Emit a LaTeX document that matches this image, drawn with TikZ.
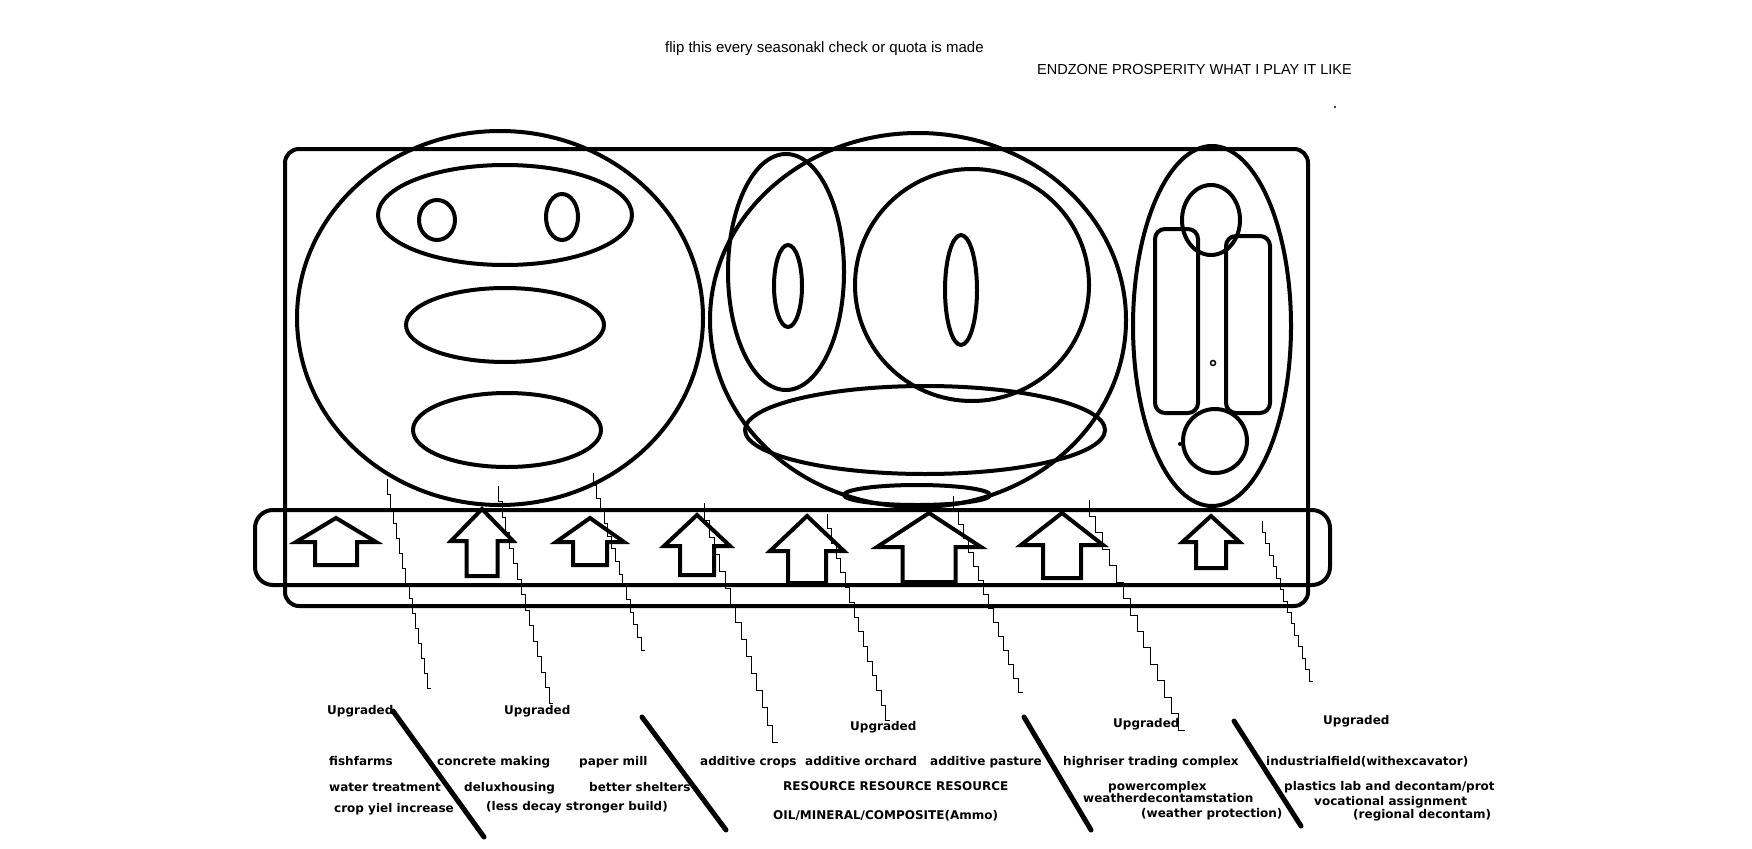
\documentclass[tikz,border=0pt]{standalone}
\usepackage{fontspec}
\setmainfont{DejaVu Sans}
\newfontfamily\headfont{Liberation Sans}
\usetikzlibrary{positioning}
\tikzset{
  board/.style={draw, line width=4pt, rounded corners=14pt},
  ring/.style={draw, line width=4pt},
  uparrow/.style={draw, line width=4pt, line join=miter},
  slash/.style={draw, line width=5pt, line cap=round},
  crack/.style={draw, line width=0.8pt},
  itemtext/.style={font=\bfseries\fontsize{12}{14}\selectfont, anchor=west, inner sep=0pt, text height=9pt, text depth=3pt},
  heading/.style={font=\headfont\fontsize{15}{18}\selectfont, anchor=west, inner sep=0pt}
}

\begin{document}
\begin{tikzpicture}[x=1pt, y=-1pt]
        \useasboundingbox (0,0) rectangle (1752,848);
        % heading
        \node[heading] (flipnote) at (665,49) {flip this every seasonakl check or quota is made};
        \node[heading, font=\headfont\fontsize{14.5}{17}\selectfont] (title) at (1037,70) {ENDZONE PROSPERITY WHAT I PLAY IT LIKE};
        \fill (1335,107) circle (1.2);
        % board and bar
        \draw[board] (285,149) rectangle (1308,606);
        \draw[board, rounded corners=18pt] (255,510) rectangle (1330,585);
        % left zone
        \draw[ring] (500,318) ellipse [x radius=203, y radius=187];
        \draw[ring] (505,215) ellipse [x radius=127, y radius=50];
        \draw[ring] (437,220) ellipse [x radius=18, y radius=20];
        \draw[ring] (562,217) ellipse [x radius=16, y radius=23];
        \draw[ring] (505,325) ellipse [x radius=99, y radius=37];
        \draw[ring] (507,430) ellipse [x radius=94, y radius=37];
        % middle zone
        \draw[ring] (918,320) ellipse [x radius=208, y radius=187];
        \draw[ring] (786,272) ellipse [x radius=58, y radius=118];
        \draw[ring] (788,286) ellipse [x radius=14, y radius=41];
        \draw[ring] (972,285) ellipse [x radius=117, y radius=116];
        \draw[ring] (961,290) ellipse [x radius=16, y radius=55];
        \draw[ring] (925,430) ellipse [x radius=180, y radius=44];
        \draw[ring] (917,495) ellipse [x radius=73, y radius=10];
        % right zone
        \draw[ring] (1212,326) ellipse [x radius=79, y radius=180];
        \draw[ring, rounded corners=10pt] (1155,229) rectangle (1198,413);
        \draw[ring, rounded corners=10pt] (1226,236) rectangle (1270,413);
        \draw[ring] (1211,220) ellipse [x radius=29, y radius=35];
        \draw[ring] (1215,441) ellipse [x radius=32, y radius=32];
        \draw[line width=1.5pt] (1213,363) circle (2.5);
        \fill (1180,444) circle (2);
        % arrows in the bar
        \foreach \tx/\ty/\hw/\hy/\sw/\by in {336/518/40/542/21/565, 482/509/31/541/15.5/576,
            590/518/34/542/17/565, 697/515/33/546/17/575, 807/516/37/551/19/583,
            929/513/52/547/26.5/582, 1062/513/41/545/19/578, 1211/516/28.5/542/15/568}
          \draw[uparrow] (\tx,\ty) -- (\tx+\hw,\hy) -- (\tx+\sw,\hy) -- (\tx+\sw,\by)
            -- (\tx-\sw,\by) -- (\tx-\sw,\hy) -- (\tx-\hw,\hy) -- cycle;
        % cracks
        \foreach \xa/\ya/\xb/\yb in {387/479/431/688, 498/486/553/703, 593/473/645/650,
            704/503/778/742, 827/514/890/720, 953/496/1023/692, 1089/500/1185/730, 1262/521/1313/681}
          \draw[crack] (\xa,\ya) foreach \k in {1,...,14} { -- ++(0,{(\yb-\ya)/14}) -- ++({(\xb-\xa)/14},0) };
        % dividers
        \draw[slash] (393,711) -- (484,837);
        \draw[slash] (642,717) -- (726,830);
        \draw[slash] (1024,717) -- (1091,830);
        \draw[slash] (1234,721) -- (1301,826);
        % upgrade notes
        \node[itemtext] (upgA) at (327,711) {Upgraded};
        \node[itemtext] (upgB) at (504,711) {Upgraded};
        \node[itemtext] (upgC) at (850,727) {Upgraded};
        \node[itemtext] (upgD) at (1113,724) {Upgraded};
        \node[itemtext] (upgE) at (1323,721) {Upgraded};
        \node[itemtext] (fishfarms) at (329,762) {fishfarms};
        \node[itemtext] (concrete) at (437,762) {concrete making};
        \node[itemtext] (papermill) at (579,762) {paper mill};
        \node[itemtext] (crops) at (700,762) {additive crops};
        \node[itemtext] (orchard) at (805,762) {additive orchard};
        \node[itemtext] (pasture) at (930,762) {additive pasture};
        \node[itemtext] (highriser) at (1063,762) {highriser trading complex};
        \node[itemtext] (industrial) at (1266,762) {industrialfield(withexcavator)};
        \node[itemtext] (water) at (329,788) {water treatment};
        \node[itemtext] (delux) at (464,788) {deluxhousing};
        \node[itemtext] (shelters) at (589,788) {better shelters};
        \node[itemtext] (resource) at (783,787) {RESOURCE RESOURCE RESOURCE};
        \node[itemtext] (power) at (1108,787) {powercomplex};
        \node[itemtext] (plastics) at (1284,787) {plastics lab and decontam/prot};
        \node[itemtext] (cropyield) at (334,809) {crop yiel increase};
        \node[itemtext] (lessdecay) at (486,807) {(less decay stronger build)};
        \node[itemtext] (oil) at (773,816) {OIL/MINERAL/COMPOSITE(Ammo)};
        \node[itemtext] (weatherst) at (1083,799) {weatherdecontamstation};
        \node[itemtext] (weatherpr) at (1141,814) {(weather protection)};
        \node[itemtext] (vocational) at (1314,802) {vocational assignment};
        \node[itemtext] (regional) at (1353,815) {(regional decontam)};
      \end{tikzpicture}
\end{document}
